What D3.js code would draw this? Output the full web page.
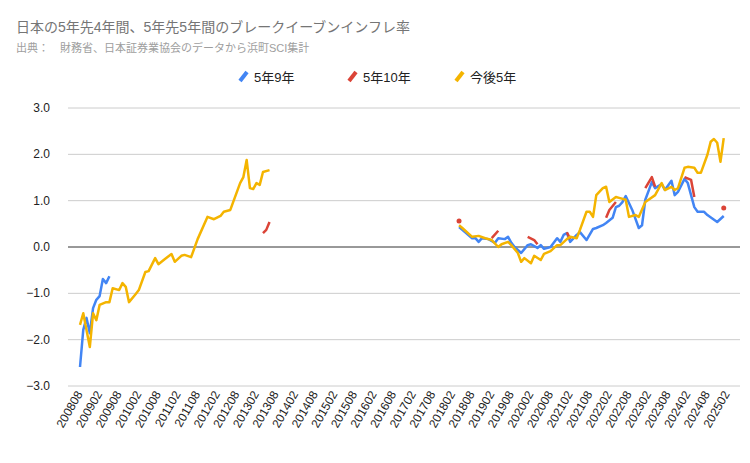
<!DOCTYPE html>
<html><head><meta charset="utf-8">
<script src="https://cdn.jsdelivr.net/npm/d3@7"></script>
<style>body{margin:0;background:#fff;font-family:Arial,"Liberation Sans","Noto Sans CJK JP",sans-serif}</style>
</head><body><svg id="chart" width="750" height="463"></svg>
<script>
// month labels on the axis (every 6 months)
const tickMonths = [];
for (let y = 2008; y <= 2025; y++) for (const m of ['02', '08']) {
  const k = `${y}${m}`;
  if (k >= '200808' && k <= '202502') tickMonths.push(k);
}
const yTicks = [-3, -2, -1, 0, 1, 2, 3];

// null breaks a line
const blue = [
  ['200808',-2.59],['200809',-1.79],['200810',-1.53],['200811',-1.86],['200812',-1.32],['200901',-1.14],
  ['200902',-1.06],['200903',-0.69],['200904',-0.78],['200905',-0.63],['200906',null],
  ['201804',0.43],['201805',0.37],['201808',0.19],['201809',0.19],['201810',0.11],['201811',0.19],['201901',0.17],
  ['201903',0.09],['201904',0.19],['201906',0.17],['201907',0.22],['201908',0.09],['201909',0.0],['201911',-0.13],
  ['202001',0.04],['202002',0.06],['202004',-0.02],['202005',0.04],['202006',-0.04],['202008',0.0],['202010',0.19],
  ['202011',0.11],['202012',0.26],['202101',0.30],['202102',0.11],['202104',0.26],['202105',0.32],['202107',0.15],
  ['202109',0.39],['202110',0.41],['202112',0.47],['202201',0.52],['202203',0.63],['202204',0.86],['202205',0.89],
  ['202206',0.97],['202207',1.10],['202209',0.80],['202211',0.41],['202212',0.47],['202301',1.02],['202303',1.40],
  ['202304',1.27],['202306',1.36],['202307',1.23],['202309',1.43],['202310',1.12],['202311',1.19],['202401',1.47],
  ['202402',1.38],['202404',0.86],['202405',0.76],['202407',0.76],['202408',0.69],['202411',0.54],['202501',0.67]
];
const red = [
  ['201304',0.30],['201305',0.37],['201306',0.54],['201307',null],
  ['201804',0.56],['201805',null],
  ['201902',0.19],['201904',0.35],['201905',null],
  ['202001',0.22],['202003',0.15],['202004',0.06],['202005',null],
  ['202101',0.32],['202102',0.17],['202103',null],
  ['202201',0.63],['202202',0.80],['202204',0.97],['202205',null],
  ['202301',1.27],['202303',1.51],['202304',1.30],['202305',null],
  ['202401',1.51],['202403',1.45],['202404',1.08],['202405',null],
  ['202501',0.84]
];
const yellow = [
  ['200808',-1.68],['200809',-1.43],['200811',-2.16],['200812',-1.43],['200901',-1.58],['200902',-1.25],
  ['200904',-1.19],['200905',-1.19],['200906',-0.89],['200908',-0.93],['200909',-0.78],['200910',-0.86],
  ['200911',-1.19],['201001',-1.02],['201002',-0.93],['201004',-0.54],['201005',-0.52],['201007',-0.24],
  ['201008',-0.37],['201010',-0.26],['201012',-0.15],['201101',-0.32],['201103',-0.19],['201104',-0.17],
  ['201106',-0.22],['201108',0.17],['201111',0.65],['201201',0.60],['201203',0.67],['201204',0.76],
  ['201206',0.80],['201209',1.38],['201210',1.51],['201211',1.88],['201212',1.27],['201301',1.25],
  ['201302',1.38],['201303',1.34],['201304',1.62],['201306',1.66],['201307',null],
  ['201804',0.47],['201805',0.41],['201808',0.22],['201810',0.24],['201812',0.19],['201902',0.15],['201904',0.0],
  ['201905',0.06],['201907',0.11],['201908',0.04],['201910',-0.13],['201911',-0.32],['201912',-0.24],['202002',-0.35],
  ['202003',-0.19],['202005',-0.28],['202006',-0.15],['202008',-0.09],['202010',0.04],['202011',0.04],['202101',0.17],
  ['202102',0.22],['202104',0.19],['202105',0.37],['202107',0.76],['202108',0.76],['202109',0.65],['202110',1.12],
  ['202112',1.27],['202201',1.30],['202202',0.97],['202204',1.08],['202205',1.06],['202207',1.02],['202208',0.65],
  ['202210',0.69],['202211',0.65],['202301',0.97],['202302',1.02],['202304',1.12],['202306',1.38],['202307',1.23],
  ['202309',1.30],['202310',1.23],['202311',1.27],['202401',1.71],['202402',1.73],['202404',1.71],['202405',1.60],
  ['202406',1.60],['202408',1.99],['202409',2.27],['202410',2.33],['202411',2.25],['202412',1.84],['202501',2.35]
];
const series = [
  { name: '5年9年', color: '#4285f4', data: blue },
  { name: '5年10年', color: '#db4437', data: red },
  { name: '今後5年', color: '#f4b400', data: yellow },
];

const svg = d3.select('#chart');
const monthIdx = (s) => (+s.slice(0, 4) - 2008) * 12 + (+s.slice(4) - 8);

const x = d3.scaleLinear().domain([0, monthIdx('202502')]).range([80, 727]);
const y = d3.scaleLinear().domain([-3, 3]).range([386, 108]);

svg.append('text').attr('x', 16).attr('y', 32).attr('fill', '#757575').attr('font-size', 14)
  .text('日本の5年先4年間、5年先5年間のブレークイーブンインフレ率');
svg.append('text').attr('x', 16).attr('y', 52).attr('fill', '#9e9e9e').attr('font-size', 11)
  .text('出典：　財務省、日本証券業協会のデータから浜町SCI集計');

// grid + y labels
svg.append('g').selectAll('line').data(yTicks).join('line')
  .attr('x1', 68).attr('x2', 740).attr('y1', d => y(d)).attr('y2', d => y(d))
  .attr('stroke', d => d === 0 ? '#333' : '#ccc').attr('stroke-width', 1);
svg.append('g').selectAll('text').data(yTicks).join('text')
  .attr('x', 50).attr('y', d => y(d) + 4).attr('text-anchor', 'end')
  .attr('font-size', 12).attr('fill', '#222').text(d => d3.format('.1f')(d));

// x labels
svg.append('g').selectAll('text').data(tickMonths).join('text')
  .attr('transform', d => `translate(${x(monthIdx(d)) + 3},394) rotate(-60)`)
  .attr('text-anchor', 'end').attr('font-size', 12).attr('fill', '#222').text(d => d);

const line = d3.line().defined(d => d[1] !== null)
  .x(d => x(monthIdx(d[0]))).y(d => y(d[1]));

for (const s of series) {
  svg.append('path').attr('d', line(s.data)).attr('fill', 'none')
    .attr('stroke', s.color).attr('stroke-width', 2.5).attr('stroke-linejoin', 'round');
  // isolated points
  const lone = s.data.filter((d, i) => d[1] !== null &&
    (i === 0 || s.data[i - 1][1] === null) && (i === s.data.length - 1 || s.data[i + 1][1] === null));
  svg.append('g').selectAll('circle').data(lone).join('circle')
    .attr('cx', d => x(monthIdx(d[0]))).attr('cy', d => y(d[1])).attr('r', 2.5).attr('fill', s.color);
}

// legend
const lg = svg.append('g');
const lx = [240, 349, 456];
series.forEach((s, i) => {
  lg.append('line').attr('x1', lx[i]).attr('x2', lx[i] + 7).attr('y1', 81).attr('y2', 72)
    .attr('stroke', s.color).attr('stroke-width', 4);
  lg.append('text').attr('x', lx[i] + 14).attr('y', 82).attr('font-size', 13).attr('fill', '#222').text(s.name);
});
</script></body></html>
